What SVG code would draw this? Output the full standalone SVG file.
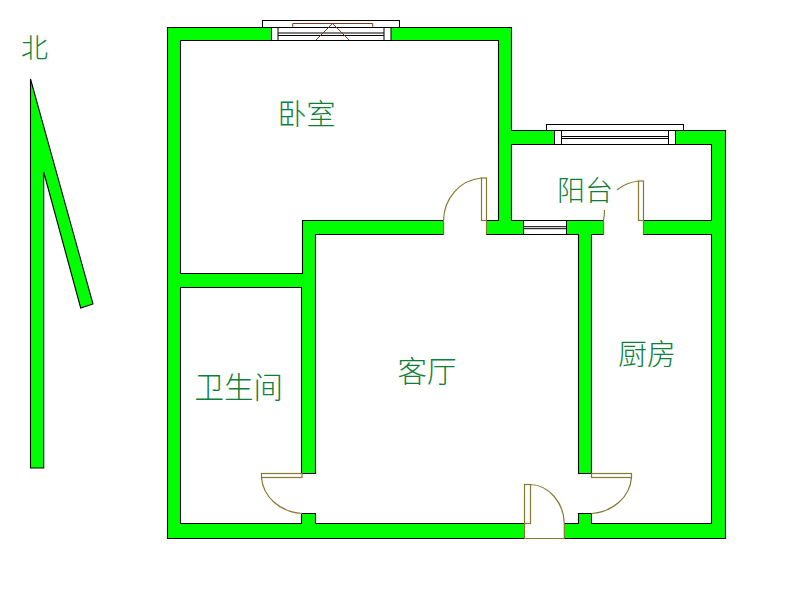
<svg xmlns="http://www.w3.org/2000/svg" width="805" height="593" viewBox="0 0 805 593">
<style>
.wall{fill:#00ff00;stroke:#000;stroke-width:1.1;fill-rule:evenodd}
.gap{fill:#fff;stroke:none}
.cap{fill:none;stroke:#000;stroke-width:1.1}
.win{fill:#fff;stroke:#000;stroke-width:1}
.line{fill:none;stroke:#000;stroke-width:1}
.red{fill:none;stroke:#7a3a20;stroke-width:1}
.door{fill:none;stroke:#857a30;stroke-width:1.2}
.doorw{fill:#fff;stroke:#857a30;stroke-width:1.2}
text{font-family:"Noto Sans CJK SC","Noto Sans CJK JP",sans-serif;fill:#0f7f38;font-weight:300}
</style>
<rect width="805" height="593" fill="#fff"/>
<polygon id="north-arrow" class="wall" points="30.5,79 93,304 80.7,308 43.7,172 43.7,468 30.5,468"/>
<path id="walls" class="wall" d="M167.5 27.5H511.5V130.5H725.5V538.5H167.5Z
M180.5 40.5H498.5V220.5H302.5V273.5H180.5Z
M180.5 287.5H301.500V523.5H180.5Z
M315.5 234.5H578.5V523.5H315.5Z
M591.5 234.5H711.5V523.5H591.5Z
M511.5 144.5H711.5V220.5H511.5Z"/>
<g id="door-gaps">
<rect class="gap" x="444" y="219" width="42" height="17"/>
<rect class="gap" x="604" y="219" width="39" height="17"/>
<rect class="gap" x="300" y="474" width="17" height="39"/>
<rect class="gap" x="577" y="474" width="16" height="39"/>
<rect class="gap" x="525" y="522" width="39" height="18"/>
<path class="cap" d="M301.700 473.500H315.500M301.700 513.500H315.500M578.500 473.500H591.500M578.500 513.500H591.500"/>
</g>
<g id="window-bedroom">
<rect class="win" x="262.500" y="20.500" width="137" height="7"/>
<rect class="win" x="271.500" y="27.500" width="119" height="13"/>
<rect class="win" x="271.500" y="27.500" width="6.500" height="13"/>
<rect class="win" x="384" y="27.500" width="7" height="13"/>
<path class="line" d="M278 33H384M278 35.500H384"/>
<path class="red" d="M292.700 27V23.500H372.700V27M332.500 23.500L316 40M332.500 23.500L349 40"/>
</g>
<g id="window-balcony">
<rect class="win" x="546.500" y="124.500" width="137" height="6"/>
<rect class="win" x="554.500" y="130.500" width="121" height="14"/>
<rect class="win" x="554.500" y="130.500" width="7" height="14"/>
<rect class="win" x="668.500" y="130.500" width="7" height="14"/>
<path class="line" d="M561.500 136.500H668.500M561.500 138.500H668.500"/>
</g>
<g id="window-living">
<rect class="win" x="523.500" y="220.500" width="43" height="14"/>
<path class="line" d="M523.500 226.700H566.500M523.500 228.700H566.500"/>
</g>
<g id="doors">
<rect class="doorw" x="481.500" y="178" width="5" height="42.500"/>
<path class="door" d="M481.500 178C460 180 444 198 443.500 220.500V234.500M486.500 220.500V234.500"/>
<rect class="doorw" x="638.500" y="181" width="5" height="39.500"/>
<path class="door" d="M638.500 181C630 182 623 185 617 190M604.500 210C604.500 214 604 218 603.500 220.500V234.500M643.500 220.500V234.500"/>
<rect class="doorw" x="261.500" y="473.500" width="40.500" height="4"/>
<path class="door" d="M261.500 477.500C263 497 280 512 302 513.500"/>
<rect class="doorw" x="591.500" y="473.500" width="40" height="4"/>
<path class="door" d="M631.500 477.500C630 497 613 512 591.500 513.500"/>
<rect class="doorw" x="524.500" y="484.500" width="6" height="39"/>
<path class="door" d="M530.500 484.500C549 485 564 503 564.300 523.500V538.500H524.500V523.500"/>
</g>
<text x="277.500" y="124.500" font-size="29">卧室</text>
<text x="557" y="201" font-size="28">阳台</text>
<text x="397.500" y="382" font-size="29.500">客厅</text>
<text x="618" y="364.500" font-size="29">厨房</text>
<text x="194.500" y="397.500" font-size="29.500">卫生间</text>
<text x="21" y="58" font-size="27">北</text>
</svg>
